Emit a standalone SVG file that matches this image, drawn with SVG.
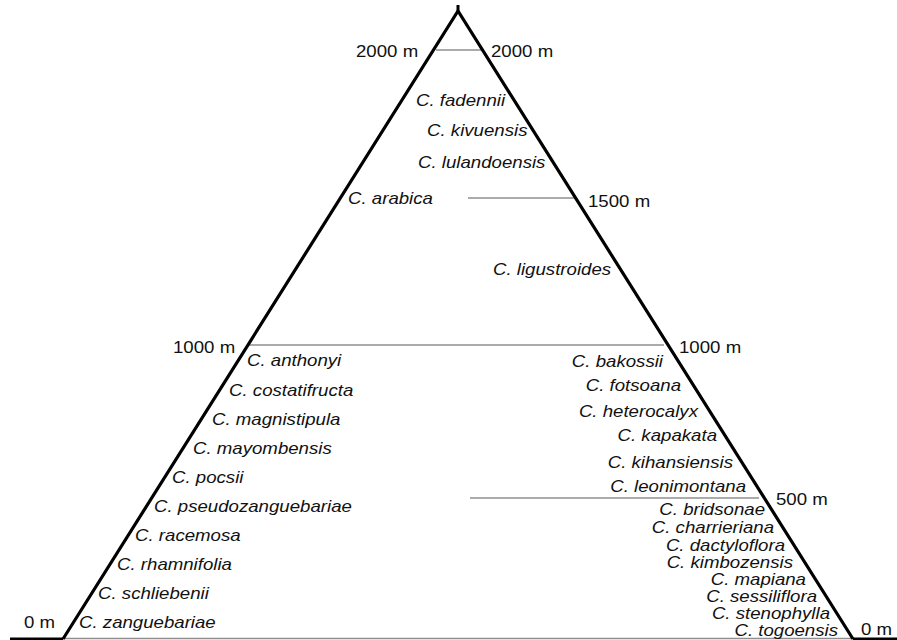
<svg xmlns="http://www.w3.org/2000/svg" width="897" height="640" viewBox="0 0 897 640">
<style>
text { font-family: "Liberation Sans", Arial, Helvetica, sans-serif; font-size: 16.5px; fill: #111; }
.sp { font-style: italic; }
.end { text-anchor: end; }
.tri { fill: none; stroke: #000; stroke-width: 3.2; stroke-linejoin: miter; stroke-miterlimit: 10; }
.lvl { stroke: #8f8f8f; stroke-width: 1.5; }
.base { stroke: #000; stroke-width: 3; }
</style>
<rect width="897" height="640" fill="#fff"/>
<g id="connectors">
  <line class="lvl" x1="63" y1="638.5" x2="853" y2="638.5"/>
  <line class="lvl" x1="436" y1="50" x2="481" y2="50"/>
  <line class="lvl" x1="468" y1="198" x2="574" y2="198"/>
  <line class="lvl" x1="249" y1="345" x2="664" y2="345"/>
  <line class="lvl" x1="470" y1="498" x2="759" y2="498"/>
  <line class="base" x1="10" y1="639" x2="63" y2="639"/>
  <line class="base" x1="853" y1="639" x2="897" y2="639"/>
  <line class="base" x1="458" y1="5" x2="458" y2="12"/>
  <polyline id="mountain" class="tri" points="63,639 458,11 853,639"/>
</g>
<g id="levels">
  <text id="l2000a" transform="translate(356,57) scale(1.13,1)">2000 m</text>
  <text id="l2000b" transform="translate(491,57) scale(1.13,1)">2000 m</text>
  <text id="l1500" transform="translate(588,207) scale(1.13,1)">1500 m</text>
  <text id="l1000a" transform="translate(173,353) scale(1.13,1)">1000 m</text>
  <text id="l1000b" transform="translate(679,353) scale(1.13,1)">1000 m</text>
  <text id="l500" transform="translate(776,505) scale(1.13,1)">500 m</text>
  <text id="l0a" transform="translate(24,628) scale(1.13,1)">0 m</text>
  <text id="l0b" transform="translate(861,635) scale(1.13,1)">0 m</text>
</g>
<g id="top-species">
  <g id="fadennii"><text class="sp" transform="translate(416,106) scale(1.13,1)">C. fadennii</text></g>
  <g id="kivuensis"><text class="sp" transform="translate(427,136) scale(1.13,1)">C. kivuensis</text></g>
  <g id="lulandoensis"><text class="sp" transform="translate(418,168) scale(1.13,1)">C. lulandoensis</text></g>
  <g id="arabica"><text class="sp" transform="translate(348,204) scale(1.13,1)">C. arabica</text></g>
  <g id="ligustroides"><text class="sp" transform="translate(493,275) scale(1.13,1)">C. ligustroides</text></g>
</g>
<g id="left-species">
  <g id="anthonyi"><text class="sp" transform="translate(247,366) scale(1.13,1)">C. anthonyi</text></g>
  <g id="costatifructa"><text class="sp" transform="translate(229,395.5) scale(1.13,1)">C. costatifructa</text></g>
  <g id="magnistipula"><text class="sp" transform="translate(212,424.5) scale(1.13,1)">C. magnistipula</text></g>
  <g id="mayombensis"><text class="sp" transform="translate(193,453.5) scale(1.13,1)">C. mayombensis</text></g>
  <g id="pocsii"><text class="sp" transform="translate(172,483) scale(1.13,1)">C. pocsii</text></g>
  <g id="pseudozanguebariae"><text class="sp" transform="translate(154,512) scale(1.13,1)">C. pseudozanguebariae</text></g>
  <g id="racemosa"><text class="sp" transform="translate(135,541) scale(1.13,1)">C. racemosa</text></g>
  <g id="rhamnifolia"><text class="sp" transform="translate(117,570) scale(1.13,1)">C. rhamnifolia</text></g>
  <g id="schliebenii"><text class="sp" transform="translate(98,599) scale(1.13,1)">C. schliebenii</text></g>
  <g id="zanguebariae"><text class="sp" transform="translate(79,628) scale(1.13,1)">C. zanguebariae</text></g>
</g>
<g id="right-species">
  <g id="bakossii"><text class="sp end" transform="translate(663,367) scale(1.13,1)">C. bakossii</text></g>
  <g id="fotsoana"><text class="sp end" transform="translate(681,391) scale(1.13,1)">C. fotsoana</text></g>
  <g id="heterocalyx"><text class="sp end" transform="translate(698,417) scale(1.13,1)">C. heterocalyx</text></g>
  <g id="kapakata"><text class="sp end" transform="translate(717,441) scale(1.13,1)">C. kapakata</text></g>
  <g id="kihansiensis"><text class="sp end" transform="translate(733,468) scale(1.13,1)">C. kihansiensis</text></g>
  <g id="leonimontana"><text class="sp end" transform="translate(746,492) scale(1.13,1)">C. leonimontana</text></g>
  <g id="bridsonae"><text class="sp end" transform="translate(765,515) scale(1.13,1)">C. bridsonae</text></g>
  <g id="charrieriana"><text class="sp end" transform="translate(774,533) scale(1.13,1)">C. charrieriana</text></g>
  <g id="dactyloflora"><text class="sp end" transform="translate(785,551) scale(1.13,1)">C. dactyloflora</text></g>
  <g id="kimbozensis"><text class="sp end" transform="translate(793,568) scale(1.13,1)">C. kimbozensis</text></g>
  <g id="mapiana"><text class="sp end" transform="translate(806,585) scale(1.13,1)">C. mapiana</text></g>
  <g id="sessiliflora"><text class="sp end" transform="translate(817,602) scale(1.13,1)">C. sessiliflora</text></g>
  <g id="stenophylla"><text class="sp end" transform="translate(830,619) scale(1.13,1)">C. stenophylla</text></g>
  <g id="togoensis"><text class="sp end" transform="translate(838,636) scale(1.13,1)">C. togoensis</text></g>
</g>
</svg>
